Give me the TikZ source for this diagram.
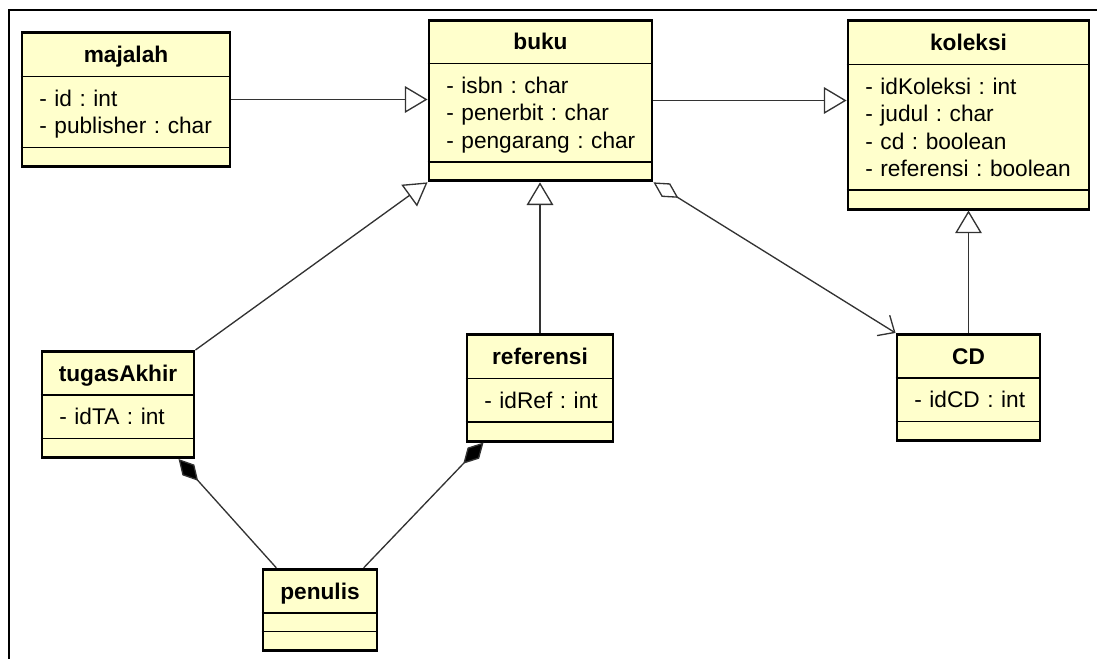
\documentclass[tikz,border=0pt]{standalone}
\usepackage{fontspec}
\setmainfont{Liberation Sans}
\usetikzlibrary{positioning, arrows.meta, shapes.multipart}
\definecolor{umlfill}{HTML}{FFFFCC}
\setlength{\parindent}{0pt}
\frenchspacing
\newcommand{\linestrut}{\rule[-4.2pt]{0pt}{20.5pt}}
\newcommand{\clsname}[1]{\makebox[\hsize]{\bfseries\linestrut #1}}
\newcommand{\attr}[1]{\mbox{\linestrut- #1}}
\newcommand{\noparts}{\rule{0pt}{2pt}}

\begin{document}
\begin{tikzpicture}[
      x=0.75pt, y=-0.75pt,
      every node/.style={font=\fontsize{17}{20.5}\selectfont},
      cls/.style={rectangle split, rectangle split parts=3,
                  rectangle split draw splits=false, draw=black,
                  line width=2.2pt, fill=umlfill, inner xsep=13pt,
                  inner ysep=5pt, align=left},
      splitline/.style={line width=1pt},
      conn/.style={line width=1pt, draw=black!80},
      gen/.style={conn, -{Triangle[open, length=17pt, width=20pt]}},
      comp/.style={conn, {Diamond[length=22pt, width=12pt, fill=black]}-},
      aggnav/.style={conn, {Diamond[open, length=22pt, width=12pt]}-{Straight Barb[length=10pt, width=18pt]}},
    ]
    \useasboundingbox (0,0) rectangle (1097,659);
    \draw[line width=1.8pt] (1097,10) -- (9,10) -- (9,659);

    \node[cls, text width=130pt]    (majalah)    at (126,99.5)
      {\clsname{majalah}\nodepart{second}\attr{id : int}\\\attr{publisher : char}\nodepart{third}\noparts};
    \node[cls, text width=141.25pt] (buku)       at (540.5,100.5)
      {\clsname{buku}\nodepart{second}\attr{isbn : char}\\\attr{penerbit : char}\\\attr{pengarang : char}\nodepart{third}\noparts};
    \node[cls, text width=154.75pt] (koleksi)    at (968.5,115)
      {\clsname{koleksi}\nodepart{second}\attr{idKoleksi : int}\\\attr{judul : char}\\\attr{cd : boolean}\\\attr{referensi : boolean}\nodepart{third}\noparts};
    \node[cls, text width=88pt]     (tugasAkhir) at (118,404.5)
      {\clsname{tugasAkhir}\nodepart{second}\attr{idTA : int}\nodepart{third}\noparts};
    \node[cls, text width=83.5pt]   (referensi)  at (540,388)
      {\clsname{referensi}\nodepart{second}\attr{idRef : int}\nodepart{third}\noparts};
    \node[cls, text width=81.25pt]  (CD)         at (968.5,387.5)
      {\clsname{CD}\nodepart{second}\attr{idCD : int}\nodepart{third}\noparts};
    \node[cls, text width=59.5pt]   (penulis)    at (320,610)
      {\clsname{penulis}\nodepart{second}\noparts\nodepart{third}\noparts};

    % compartment lines
    \foreach \c in {majalah, buku, koleksi, tugasAkhir, referensi, CD, penulis}
      \draw[splitline] (\c.text split west) -- (\c.text split east)
                       (\c.two split west) -- (\c.two split east);

    \draw[gen] (majalah.east) -- (majalah.east -| buku.west);
    \draw[gen] (buku.east) -- (buku.east -| koleksi.west);
    \draw[gen] (tugasAkhir.north east) -- (buku.south west);
    \draw[gen] (referensi.north) -- (referensi.north |- buku.south);
    \draw[gen] (CD.north) -- (CD.north |- koleksi.south);
    \draw[aggnav] (buku.south east) -- (CD.north west);
    \draw[comp] (tugasAkhir.-42) -- (penulis.136);
    \draw[comp] (referensi.-136) -- (penulis.44);
  \end{tikzpicture}
\end{document}
